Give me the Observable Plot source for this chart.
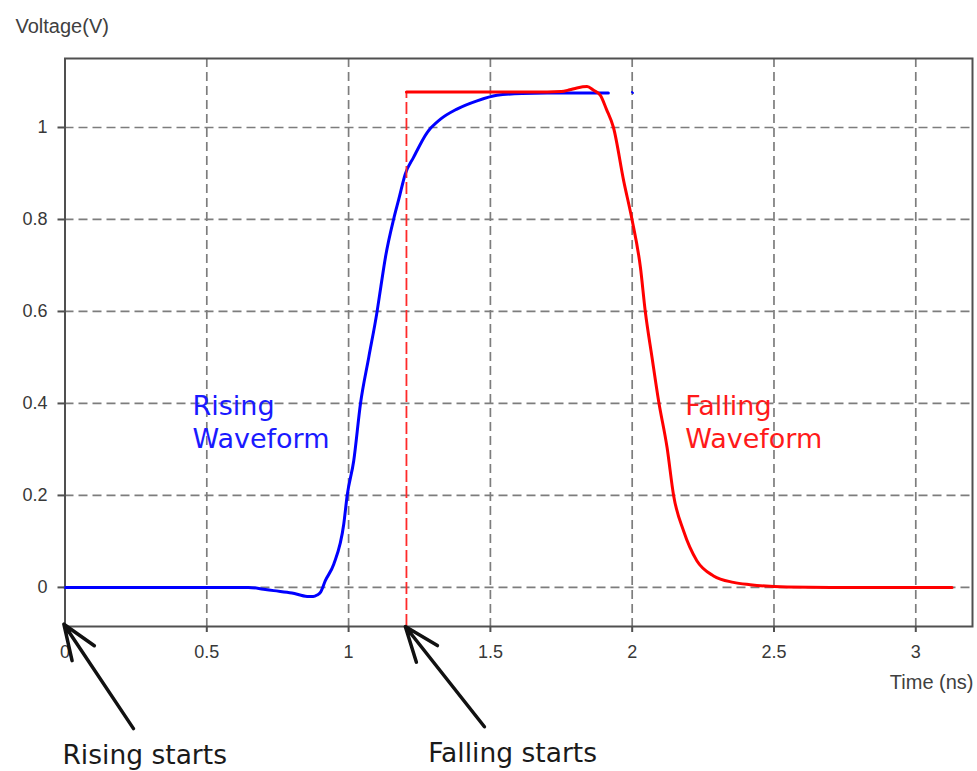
<!DOCTYPE html>
<html><head><meta charset="utf-8">
<script src="https://cdn.jsdelivr.net/npm/d3@7"></script>
<script src="https://cdn.jsdelivr.net/npm/@observablehq/plot@0.6"></script>
<style>html,body{margin:0;padding:0;background:#fff}#chart svg{display:block}</style>
</head><body><div id="chart"></div>
<script>
// Axis ticks
const xTicks = [0, 0.5, 1, 1.5, 2, 2.5, 3];
const xGrid = [0.5, 1, 1.5, 2, 2.5, 3];
const yTicks = [0, 0.2, 0.4, 0.6, 0.8, 1];
const xDomain = [0, 3.2];
const yDomain = [-0.085, 1.15];

// Rising waveform (blue)
const risingT = [0, 0.62, 0.647, 0.70, 0.736, 0.80, 0.854, 0.875, 0.889, 0.9006, 0.918, 0.948, 0.983, 0.995, 1.018, 1.042, 1.071, 1.100, 1.114, 1.130, 1.159, 1.177, 1.200, 1.229, 1.277, 1.324, 1.382, 1.453, 1.523, 1.612, 1.70, 1.80, 1.916];
const risingV = [0, 0, 0, -0.004, -0.007, -0.012, -0.0196, -0.02, -0.0167, -0.011, 0.0146, 0.051, 0.138, 0.2, 0.275, 0.4, 0.5, 0.598, 0.655, 0.718, 0.801, 0.844, 0.899, 0.935, 0.989, 1.018, 1.040, 1.058, 1.070, 1.074, 1.075, 1.075, 1.075];
// tiny blue blip near t = 2
const blipT = [1.999, 2.003];
const blipV = [1.077, 1.075];

// Falling waveform (red)
const fallingT = [1.204, 1.70, 1.75, 1.78, 1.805, 1.841, 1.864, 1.888, 1.909, 1.934, 1.970, 1.999, 2.029, 2.046, 2.070, 2.093, 2.123, 2.146, 2.181, 2.228, 2.287, 2.357, 2.416, 2.546, 2.70, 3.128];
const fallingV = [1.077, 1.077, 1.078, 1.082, 1.086, 1.089, 1.081, 1.07, 1.04, 1.0, 0.884, 0.801, 0.696, 0.601, 0.5, 0.406, 0.304, 0.2, 0.123, 0.058, 0.025, 0.011, 0.006, 0.001, 0, 0];
// dashed start marker of the falling edge
const fallStartT = [1.204];
const fallStartTop = 1.077;

// Annotations (data units)
const waveLabels = ["Rising\nWaveform", "Falling\nWaveform"];
const waveLabelT = [0.4495, 2.187];
const waveLabelV = [0.3037, 0.3037];
const waveLabelColor = ["#1a1aff", "#ff1a1a"];
const startLabels = ["Rising starts", "Falling starts"];
const startLabelT = [-0.009, 1.281];
const startLabelV = [-0.383, -0.379];
const arrowTipT = [-0.004, 1.2];
const arrowTipV = [-0.08, -0.085];
const arrowTailT = [0.2415, 1.479];
const arrowTailV = [-0.307, -0.303];

const rising = risingT.map((t, i) => ({t, v: risingV[i]}));
const blip = blipT.map((t, i) => ({t, v: blipV[i]}));
const falling = fallingT.map((t, i) => ({t, v: fallingV[i]}));
const waveText = waveLabels.map((label, i) => ({label, t: waveLabelT[i], v: waveLabelV[i], color: waveLabelColor[i]}));
const startText = startLabels.map((label, i) => ({label, t: startLabelT[i], v: startLabelV[i]}));
const arrows = arrowTipT.map((t, i) => ({t1: arrowTailT[i], v1: arrowTailV[i], t2: t, v2: arrowTipV[i]}));

const gridStyle = {stroke: "#7d7d7d", strokeOpacity: 1, strokeWidth: 1.7, strokeDasharray: "9,5"};
const axisFont = "'Liberation Sans', Arial, sans-serif";
const noteFont = "'DejaVu Sans', Verdana, sans-serif";

const chart = Plot.plot({
  width: 977,
  height: 771,
  marginLeft: 64.5,
  marginRight: 5,
  marginTop: 58,
  marginBottom: 145,
  style: {background: "#fff", fontFamily: axisFont},
  x: {domain: xDomain},
  y: {domain: yDomain},
  marks: [
    Plot.gridX(xGrid, gridStyle),
    Plot.gridY(yTicks, gridStyle),
    Plot.frame({stroke: "#505050", strokeWidth: 2}),
    Plot.line(rising, {x: "t", y: "v", stroke: "#0000ff", strokeWidth: 3, curve: "monotone-x"}),
    Plot.line(blip, {x: "t", y: "v", stroke: "#0000ff", strokeWidth: 2}),
    Plot.ruleX(fallStartT, {y1: yDomain[0], y2: fallStartTop, stroke: "#ff2a2a", strokeWidth: 1.8, strokeDasharray: "12,4"}),
    Plot.line(falling, {x: "t", y: "v", stroke: "#ff0000", strokeWidth: 3, curve: "monotone-x"}),
    Plot.axisX(xTicks, {anchor: "bottom", tickSize: 6, tickPadding: 13, fontSize: 18, stroke: "#505050", strokeWidth: 2, fill: "#383838", tickFormat: d => String(d), label: null}),
    Plot.axisY(yTicks, {anchor: "left", tickSize: 7, tickPadding: 10.5, fontSize: 18, stroke: "#505050", strokeWidth: 2, fill: "#383838", tickFormat: d => String(d), label: null}),
    Plot.text(["Voltage(V)"], {frameAnchor: "top-left", dx: -49.5, dy: -26, textAnchor: "start", lineAnchor: "bottom", fontSize: 20, fill: "#404040"}),
    Plot.text(["Time (ns)"], {frameAnchor: "bottom-right", dx: 1, dy: 62, textAnchor: "end", lineAnchor: "bottom", fontSize: 20, fill: "#404040"}),
    Plot.text(waveText, {x: "t", y: "v", text: "label", fill: "color", textAnchor: "start", lineAnchor: "bottom", lineHeight: 1.2, fontSize: 27, fontFamily: noteFont}),
    Plot.text(startText, {x: "t", y: "v", text: "label", fill: "#1a1a1a", textAnchor: "start", lineAnchor: "bottom", fontSize: 26.5, fontFamily: noteFont}),
    Plot.arrow(arrows, {x1: "t1", y1: "v1", x2: "t2", y2: "v2", stroke: "#111", strokeWidth: 3.5, headLength: 16, headAngle: 42})
  ]
});
document.getElementById("chart").appendChild(chart);
</script>
</body></html>
